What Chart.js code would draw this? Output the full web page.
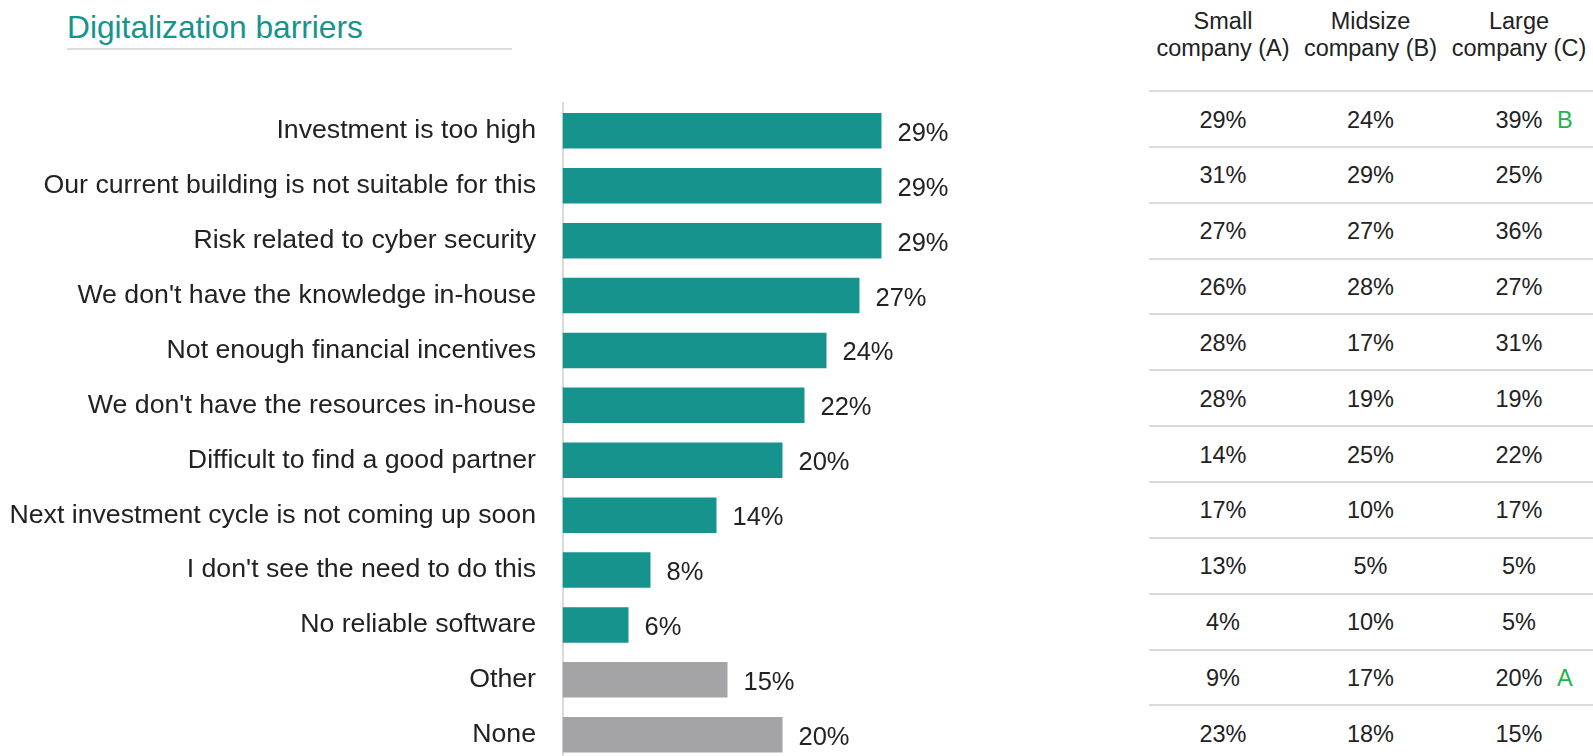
<!DOCTYPE html>
<html>
<head>
<meta charset="utf-8">
<title>Digitalization barriers</title>
<script src="https://cdn.jsdelivr.net/npm/chart.js@4.4.1/dist/chart.umd.min.js"></script>
<style>
  body { margin: 0; background: #fff; overflow: hidden; }
  #page {
    position: relative; width: 1593px; height: 756px; overflow: hidden;
    font-family: 'Liberation Sans', Arial, sans-serif; color: #222;
  }
  #chart { position: absolute; left: 0; top: 0; }
  #title {
    position: absolute; left: 67px; top: 9px; width: 445px;
    font-size: 31.7px; line-height: 36px; color: #17938e;
    padding-bottom: 3px; border-bottom: 2px solid #dcdcdc;
  }
  .head, .cell {
    position: absolute; width: 150px; margin-left: -75px;
    text-align: center; font-size: 23.5px; white-space: nowrap;
  }
  .head { top: 8px; line-height: 27px; }
  .cell { height: 55px; line-height: 55px; }
  .rule { position: absolute; left: 1149px; right: 0; height: 2px; background: #dadada; }
  .sig { position: absolute; left: 113px; top: 0; color: #1db34f; }
</style>
</head>
<body>
<div id="page">
  <div id="title">Digitalization barriers</div>
  <canvas id="chart" width="1100" height="770"></canvas>
</div>
<script>
var categories = [
  'Investment is too high',
  'Our current building is not suitable for this',
  'Risk related to cyber security',
  "We don't have the knowledge in-house",
  'Not enough financial incentives',
  "We don't have the resources in-house",
  'Difficult to find a good partner',
  'Next investment cycle is not coming up soon',
  "I don't see the need to do this",
  'No reliable software',
  'Other',
  'None'
];
var total = [29, 29, 29, 27, 24, 22, 20, 14, 8, 6, 15, 20];

// breakdown by company size
var groups = ['Small\ncompany (A)', 'Midsize\ncompany (B)', 'Large\ncompany (C)'];
var small = [29, 31, 27, 26, 28, 28, 14, 17, 13, 4, 9, 23];
var midsize = [24, 29, 27, 28, 17, 19, 25, 10, 5, 10, 17, 18];
var large = [39, 25, 36, 27, 31, 19, 22, 17, 5, 5, 20, 15];
var largeSig = ['B', '', '', '', '', '', '', '', '', '', 'A', ''];

var neutral = ['Other', 'None'];

var teal = '#17938e';
var grey = '#a4a4a6';
var font = "'Liberation Sans', Arial, sans-serif";

// percent labels at the end of each bar
var barLabels = {
  id: 'barLabels',
  afterDatasetsDraw: function(chart) {
    var ctx = chart.ctx;
    var meta = chart.getDatasetMeta(0);
    ctx.save();
    ctx.font = '25.5px ' + font;
    ctx.fillStyle = '#222';
    ctx.textAlign = 'left';
    ctx.textBaseline = 'middle';
    meta.data.forEach(function(bar, i) {
      ctx.fillText(total[i] + '%', bar.x + 16, bar.y + 3);
    });
    ctx.restore();
  }
};

var ctx = document.getElementById('chart').getContext('2d');
var chart = new Chart(ctx, {
  type: 'bar',
  data: {
    labels: categories,
    datasets: [{
      data: total,
      backgroundColor: function(c) {
        return neutral.indexOf(categories[c.dataIndex]) >= 0 ? grey : teal;
      },
      barPercentage: 0.647,
      categoryPercentage: 1
    }]
  },
  options: {
    indexAxis: 'y',
    responsive: false,
    animation: false,
    layout: { padding: { top: 103.4, bottom: 7.8, left: 0, right: 97.5 } },
    plugins: { legend: { display: false }, tooltip: { enabled: false } },
    scales: {
      x: { display: false, min: 0, max: 40 },
      y: {
        grid: { display: false, drawTicks: false },
        border: { display: true, color: '#dadada', width: 2 },
        ticks: {
          autoSkip: false,
          padding: 26.5,
          color: '#222',
          font: { family: font, size: 26.7 }
        },
        afterFit: function(scale) {
          scale.width = 562.5;
          // the tick padding is only meant horizontally
          scale.paddingTop = 0;
          scale.paddingBottom = 0;
        }
      }
    }
  },
  plugins: [barLabels]
});

// table on the right
var page = document.getElementById('page');
var colX = [1223, 1370.5, 1519];
var cols = [small, midsize, large];

groups.forEach(function(g, j) {
  var h = document.createElement('div');
  h.className = 'head';
  h.style.left = colX[j] + 'px';
  h.innerHTML = g.replace('\n', '<br>');
  page.appendChild(h);
});

var rowTop = 90, rowStep = 55.85;
categories.forEach(function(c, i) {
  var y = rowTop + i * rowStep;
  var rule = document.createElement('div');
  rule.className = 'rule';
  rule.style.top = y + 'px';
  page.appendChild(rule);
  cols.forEach(function(vals, j) {
    var cell = document.createElement('div');
    cell.className = 'cell';
    cell.style.left = colX[j] + 'px';
    cell.style.top = (y + 2.5) + 'px';
    cell.textContent = vals[i] + '%';
    if (j === 2 && largeSig[i]) {
      var s = document.createElement('span');
      s.className = 'sig';
      s.textContent = largeSig[i];
      cell.appendChild(s);
    }
    page.appendChild(cell);
  });
});
</script>
</body>
</html>
